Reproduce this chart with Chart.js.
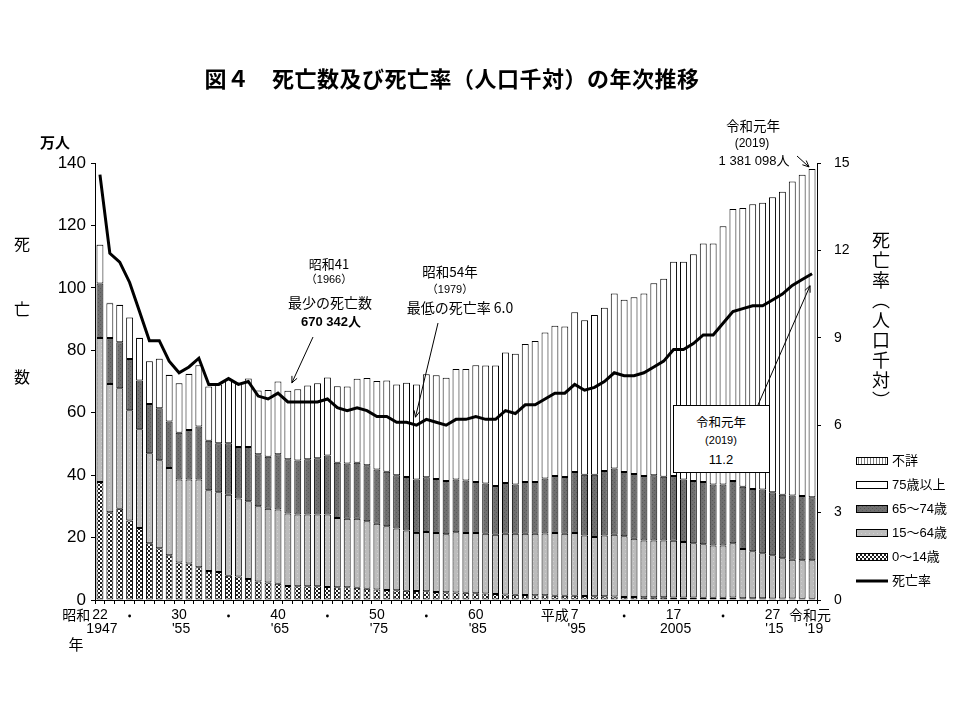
<!DOCTYPE html>
<html lang="ja">
<head>
<meta charset="utf-8">
<title>図４ 死亡数及び死亡率（人口千対）の年次推移</title>
<script src="https://cdn.jsdelivr.net/npm/chart.js@4.4.1/dist/chart.umd.min.js"></script>
<style>
  html, body { margin: 0; padding: 0; background: #fff; }
  #wrap { position: relative; width: 960px; height: 720px; color: #000;
          font-family: "Liberation Sans", "Noto Sans CJK JP", sans-serif; }
  #wrap canvas { position: absolute; left: 0; top: 0; }
  .t { position: absolute; white-space: nowrap; transform: translate(-50%, -50%); line-height: 1; color: #000; }
  .jp { font-family: "Noto Sans CJK JP", sans-serif; }
  .vt { position: absolute; writing-mode: vertical-rl; font-family: "Noto Sans CJK JP", sans-serif;
        font-size: 18px; letter-spacing: 2px; line-height: 1; }
  .box { position: absolute; left: 673px; top: 405px; width: 95px; height: 66px;
         background: #fff; border: 1px solid #000; }
</style>
</head>
<body>
<div id="wrap">
  <canvas id="chart-4" width="960" height="720"></canvas>

  <div class="t jp" style="left:452px; top:77px; font-size:22px; font-weight:bold; letter-spacing:0.5px;">図４　死亡数及び死亡率（人口千対）の年次推移</div>

  <div class="t jp" style="left:55px; top:141px; font-size:15px; font-weight:bold;">万人</div>
  <div class="t jp" style="left:22px; top:243px; font-size:16px;">死</div>
  <div class="t jp" style="left:22px; top:308px; font-size:16px;">亡</div>
  <div class="t jp" style="left:22px; top:376px; font-size:16px;">数</div>
  <div class="t jp" style="left:76px; top:643px; font-size:15px;">年</div>
  <div class="vt" style="left:872px; top:231px;">死亡率（人口千対）</div>

  <!-- 昭和41 -->
  <div class="t jp" style="left:329px; top:263px; font-size:13px;">昭和41</div>
  <div class="t" style="left:329px; top:279px; font-size:11px;">（1966）</div>
  <div class="t jp" style="left:330px; top:302px; font-size:14px;">最少の死亡数</div>
  <div class="t" style="left:331px; top:321px; font-size:13px; font-weight:bold;">670 342人</div>

  <!-- 昭和54年 -->
  <div class="t jp" style="left:450px; top:272px; font-size:13.5px;">昭和54年</div>
  <div class="t" style="left:450px; top:289px; font-size:11px;">（1979）</div>
  <div class="t jp" style="left:460px; top:307px; font-size:14px;">最低の死亡率 6.0</div>

  <!-- 令和元年 total -->
  <div class="t jp" style="left:753px; top:126px; font-size:13.5px;">令和元年</div>
  <div class="t" style="left:752px; top:143px; font-size:12px;">(2019)</div>
  <div class="t" style="left:754px; top:160px; font-size:13px;">1 381 098人</div>

  <!-- 令和元年 rate box -->
  <div class="box"></div>
  <div class="t jp" style="left:721px; top:422px; font-size:12.5px;">令和元年</div>
  <div class="t" style="left:721px; top:440px; font-size:11px;">(2019)</div>
  <div class="t" style="left:721px; top:459px; font-size:13px;">11.2</div>
</div>

<script>
// years 1947 .. 2019 (昭和22 .. 令和元)
const years = Array.from({ length: 73 }, (_, i) => String(1947 + i));

// deaths by age group, 万人
const age0to14 = [
  37.8, 28.1, 29.2, 25.5, 23.1, 18.2, 16.6, 14.3, 12.0, 11.7,
  10.5, 9.3, 9.0, 7.8, 7.5, 6.7, 5.9, 5.6, 5.2, 4.5,
  4.4, 4.4, 4.4, 4.2, 4.1, 4.1, 3.9, 3.6, 3.4, 3.2,
  3.1, 3.0, 2.9, 2.8, 2.6, 2.5, 2.4, 2.3, 2.2, 2.1,
  1.9, 1.8, 1.7, 1.6, 1.5, 1.5, 1.4, 1.4, 1.4, 1.3,
  1.2, 1.2, 1.1, 1.0, 1.0, 0.9, 0.9, 0.9, 0.8, 0.8,
  0.8, 0.7, 0.7, 0.7, 0.8, 0.6, 0.6, 0.6, 0.5, 0.5,
  0.5, 0.4, 0.4
];
const age15to64 = [
  46.1, 41.1, 38.6, 35.3, 31.6, 28.8, 28.2, 28.0, 26.6, 26.9,
  28.1, 25.9, 25.5, 25.9, 25.0, 24.9, 24.1, 23.6, 23.8, 23.2,
  23.0, 23.0, 23.0, 23.2, 22.2, 21.9, 22.1, 21.6, 21.0, 20.4,
  19.8, 19.3, 18.6, 19.0, 18.9, 18.6, 19.3, 19.2, 19.3, 19.1,
  19.0, 19.4, 19.5, 19.6, 19.7, 19.8, 20.1, 19.8, 20.1, 19.4,
  19.0, 19.5, 19.8, 19.4, 18.6, 18.2, 18.2, 18.2, 18.2, 17.8,
  17.4, 17.2, 16.8, 16.8, 17.4, 15.7, 15.0, 14.4, 13.8, 12.9,
  12.4, 12.3, 12.3
];
const age65to74 = [
  17.5, 14.7, 14.8, 16.4, 15.6, 15.8, 16.6, 14.9, 15.0, 15.9,
  17.0, 15.8, 15.7, 16.5, 16.5, 17.4, 16.7, 16.7, 17.7, 17.4,
  17.3, 17.7, 18.0, 18.9, 17.7, 17.7, 18.0, 18.0, 17.4, 17.5,
  17.1, 17.1, 17.1, 17.5, 17.3, 17.0, 16.9, 16.8, 16.3, 16.1,
  15.6, 16.3, 15.8, 16.6, 16.6, 17.6, 18.2, 18.2, 19.5, 19.4,
  19.9, 20.6, 21.2, 20.6, 20.8, 20.6, 20.9, 20.4, 20.7, 20.0,
  19.9, 19.9, 19.5, 19.5, 19.9, 20.0, 20.0, 20.4, 20.2, 20.3,
  20.6, 20.6, 20.2
];
const age75plus = [
  12.4, 11.2, 11.9, 13.3, 13.6, 13.7, 15.9, 14.9, 15.8, 17.9,
  19.6, 17.4, 18.8, 20.5, 20.6, 22.0, 20.4, 21.4, 23.3, 21.9,
  22.8, 23.6, 24.0, 25.0, 24.5, 24.7, 26.9, 27.9, 28.4, 29.2,
  29.0, 30.2, 30.4, 33.0, 33.2, 33.1, 35.4, 35.7, 37.4, 37.8,
  38.6, 41.8, 41.9, 44.2, 45.2, 46.8, 48.2, 48.2, 51.2, 49.5,
  51.2, 52.3, 56.1, 55.2, 56.6, 58.5, 61.5, 63.4, 68.7, 69.8,
  72.7, 76.4, 77.2, 82.7, 87.2, 89.3, 91.2, 91.9, 94.5, 97.1,
  100.6, 102.9, 105.2
];
const ageUnknown = [
  0.1, 0.1, 0.1, 0.1, 0.1, 0.1, 0.1, 0.1, 0.1, 0.1,
  0, 0, 0, 0, 0, 0, 0, 0, 0, 0,
  0, 0, 0, 0, 0, 0, 0, 0, 0, 0,
  0, 0, 0, 0, 0, 0, 0, 0, 0, 0,
  0, 0, 0, 0, 0, 0, 0, 0, 0, 0,
  0, 0, 0, 0, 0, 0, 0, 0, 0, 0,
  0, 0, 0, 0, 0, 0, 0, 0, 0, 0,
  0, 0, 0
];

// death rate per 1,000 population
const deathRate = [
  14.6, 11.9, 11.6, 10.9, 9.9, 8.9, 8.9, 8.2, 7.8, 8.0,
  8.3, 7.4, 7.4, 7.6, 7.4, 7.5, 7.0, 6.9, 7.1, 6.8,
  6.8, 6.8, 6.8, 6.9, 6.6, 6.5, 6.6, 6.5, 6.3, 6.3,
  6.1, 6.1, 6.0, 6.2, 6.1, 6.0, 6.2, 6.2, 6.3, 6.2,
  6.2, 6.5, 6.4, 6.7, 6.7, 6.9, 7.1, 7.1, 7.4, 7.2,
  7.3, 7.5, 7.8, 7.7, 7.7, 7.8, 8.0, 8.2, 8.6, 8.6,
  8.8, 9.1, 9.1, 9.5, 9.9, 10.0, 10.1, 10.1, 10.3, 10.5,
  10.8, 11.0, 11.2
];

// x axis labels
const tickYears    = [1947, 1950, 1955, 1960, 1965, 1970, 1975, 1980, 1985, 1995, 2000, 2005, 2010, 2015, 2019];
const tickEraNames = ['昭和', '', '', '', '', '', '', '', '', '平成', '', '', '', '', '令和元'];
const tickEraYears = ['22', '・', '30', '・', '40', '・', '50', '・', '60', '7', '・', '17', '・', '27', ''];
const tickWestern  = ['1947', '', "'55", '', "'65", '', "'75", '', "'85", "'95", '', '2005', '', "'15", "'19"];

const legendLabels = ['不詳', '75歳以上', '65～74歳', '15～64歳', '0～14歳', '死亡率'];

function makePattern(size, draw) {
  const c = document.createElement('canvas');
  c.width = size; c.height = size;
  draw(c.getContext('2d'));
  return document.getElementById('chart-4').getContext('2d').createPattern(c, 'repeat');
}

const patChild = makePattern(4, (g) => {
  g.fillStyle = '#1e1e1e'; g.fillRect(0, 0, 4, 4);
  g.fillStyle = '#ffffff'; g.fillRect(0, 0, 2, 2); g.fillRect(2, 2, 2, 2);
});
const patWork = makePattern(4, (g) => {
  g.fillStyle = '#bcbcbc'; g.fillRect(0, 0, 4, 4);
  g.fillStyle = '#d0d0d0'; g.fillRect(1, 1, 1, 1);
});
const patOld = makePattern(4, (g) => {
  g.fillStyle = '#707070'; g.fillRect(0, 0, 4, 4);
  g.fillStyle = '#5a5a5a'; g.fillRect(0, 0, 1, 1); g.fillRect(2, 2, 1, 1);
});
const patUnknown = makePattern(3, (g) => {
  g.fillStyle = '#ffffff'; g.fillRect(0, 0, 3, 3);
  g.fillStyle = '#808080'; g.fillRect(0, 0, 1, 3);
});

function arrow(ctx, x1, y1, x2, y2) {
  const a = Math.atan2(y2 - y1, x2 - x1);
  const len = 7, sp = 0.42;
  ctx.beginPath();
  ctx.moveTo(x1, y1);
  ctx.lineTo(x2, y2);
  ctx.moveTo(x2 - len * Math.cos(a - sp), y2 - len * Math.sin(a - sp));
  ctx.lineTo(x2, y2);
  ctx.lineTo(x2 - len * Math.cos(a + sp), y2 - len * Math.sin(a + sp));
  ctx.stroke();
}

// annotation arrows: start point, then dataset / index they point at
const arrows = [
  { from: [313, 337], ds: 4, idx: 19, dx: 4, dy: -8 },
  { from: [438, 323], ds: 5, idx: 32, dx: -1, dy: -8 },
  { from: [758, 405], ds: 5, idx: 72, dx: -2, dy: 12 },
  { from: [797, 156], ds: 4, idx: 72, dx: -3, dy: -2 },
];

const decor = {
  id: 'decor',
  afterDraw(chart) {
    const ctx = chart.ctx;
    const xs = chart.scales.x;
    ctx.save();
    ctx.fillStyle = '#000';
    ctx.strokeStyle = '#000';
    ctx.textBaseline = 'middle';

    // x labels
    tickYears.forEach((yr, k) => {
      const x = xs.getPixelForValue(yr - 1947);
      const num = tickEraYears[k];
      const era = tickEraNames[k];
      const west = tickWestern[k];
      ctx.font = '14px "Liberation Sans", "Noto Sans CJK JP", sans-serif';
      ctx.textAlign = 'center';
      if (num === '・') {
        ctx.beginPath();
        ctx.arc(x, 616, 1.4, 0, Math.PI * 2);
        ctx.fill();
      } else if (num) {
        ctx.fillText(num, x, 615);
        if (era) {
          const w = ctx.measureText(num).width;
          ctx.font = '14px "Noto Sans CJK JP", sans-serif';
          ctx.textAlign = 'right';
          ctx.fillText(era, x - w / 2 - 2, 615);
        }
      } else if (era) {
        ctx.font = '14px "Noto Sans CJK JP", sans-serif';
        ctx.fillText(era, x - 2, 615);
      }
      if (west) {
        ctx.font = '14px "Liberation Sans", sans-serif';
        ctx.textAlign = 'center';
        ctx.fillText(west, x + 2, 629);
      }
    });

    // arrows
    ctx.lineWidth = 1;
    arrows.forEach((a) => {
      const el = chart.getDatasetMeta(a.ds).data[a.idx];
      arrow(ctx, a.from[0], a.from[1], el.x + a.dx, el.y + a.dy);
    });

    // legend
    const order = [4, 3, 2, 1, 0, 5];
    order.forEach((d, i) => {
      const ds = chart.data.datasets[d];
      const y = 461 + i * 24;
      if (ds.type === 'line') {
        ctx.lineWidth = 3;
        ctx.beginPath();
        ctx.moveTo(856, y);
        ctx.lineTo(888, y);
        ctx.stroke();
      } else {
        ctx.fillStyle = ds.backgroundColor;
        ctx.fillRect(856, y - 4, 32, 8);
        ctx.lineWidth = 1;
        ctx.strokeRect(856.5, y - 3.5, 31, 7);
      }
      ctx.fillStyle = '#000';
      ctx.font = '13px "Liberation Sans", "Noto Sans CJK JP", sans-serif';
      ctx.textAlign = 'left';
      ctx.fillText(legendLabels[i], 892, y);
    });
    ctx.restore();
  }
};

function barSet(label, data, fill) {
  return {
    type: 'bar',
    label: label,
    data: data,
    backgroundColor: fill,
    borderColor: '#000',
    borderWidth: 1,
    borderSkipped: false,
    barPercentage: 0.7,
    categoryPercentage: 1.0,
    yAxisID: 'y',
    order: 1,
  };
}

Chart.defaults.font.family = '"Liberation Sans", "Noto Sans CJK JP", sans-serif';
Chart.defaults.color = '#000';

const ctx = document.getElementById('chart-4').getContext('2d');
new Chart(ctx, {
  type: 'bar',
  data: {
    labels: years,
    datasets: [
      barSet('0～14歳', age0to14, patChild),
      barSet('15～64歳', age15to64, patWork),
      barSet('65～74歳', age65to74, patOld),
      barSet('75歳以上', age75plus, '#ffffff'),
      barSet('不詳', ageUnknown, patUnknown),
      {
        type: 'line',
        label: '死亡率',
        data: deathRate,
        borderColor: '#000',
        borderWidth: 3,
        pointRadius: 0,
        tension: 0,
        yAxisID: 'y1',
        order: 0,
      },
    ],
  },
  options: {
    responsive: false,
    animation: false,
    layout: { padding: { top: 163, left: 0, right: 0, bottom: 0 } },
    scales: {
      x: {
        stacked: true,
        offset: true,
        grid: { offset: true, drawOnChartArea: false, tickLength: 4, color: '#000' },
        border: { color: '#000', width: 1 },
        ticks: { display: false, autoSkip: false },
        afterFit: (s) => { s.height = 120; },
      },
      y: {
        position: 'left',
        stacked: true,
        min: 0,
        max: 140,
        grid: { drawOnChartArea: false, tickLength: 4, color: '#000' },
        border: { color: '#000', width: 1 },
        ticks: { stepSize: 20, padding: 5, font: { size: 17 } },
        afterFit: (s) => { s.width = 95; },
      },
      y1: {
        position: 'right',
        stacked: false,
        min: 0,
        max: 15,
        grid: { drawOnChartArea: false, tickLength: 4, color: '#000' },
        border: { color: '#000', width: 1 },
        ticks: { stepSize: 3, padding: 13, font: { size: 14 } },
        afterFit: (s) => { s.width = 143; },
      },
    },
    plugins: {
      legend: { display: false },
      tooltip: { enabled: false },
    },
  },
  plugins: [decor],
});
</script>
</body>
</html>
